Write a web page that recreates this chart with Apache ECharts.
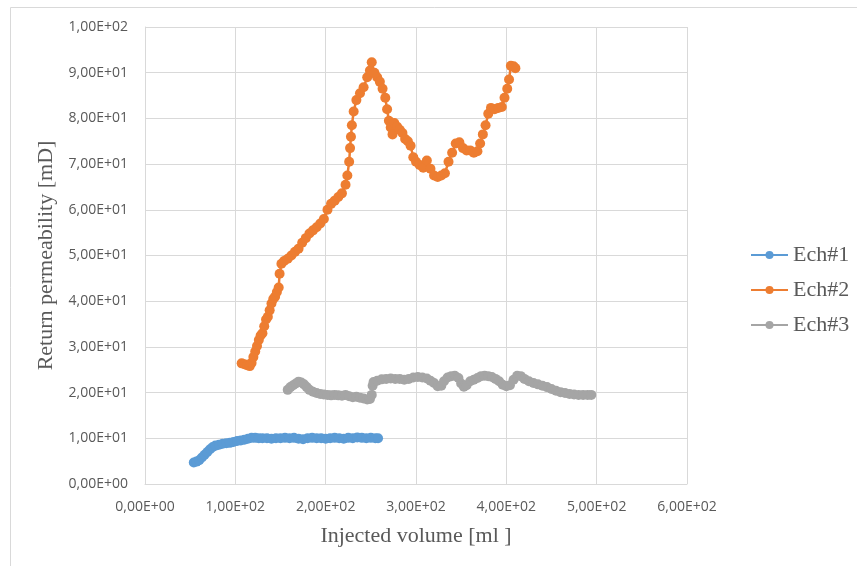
<!DOCTYPE html>
<html>
<head>
<meta charset="utf-8">
<script src="https://cdn.jsdelivr.net/npm/echarts@6/dist/echarts.min.js"></script>
<style>
  html, body { margin: 0; padding: 0; background: #fff; }
  #chart { width: 857px; height: 566px; }
</style>
</head>
<body>
<div id="chart"></div>
<script>
  // series names
  var seriesNames = ['Ech#1', 'Ech#2', 'Ech#3']

  // Ech#1 : injected volume [ml] / permeability [mD]
  var ech1X = [54, 57, 60, 63, 66, 69, 72, 75, 78, 82, 86, 90, 94, 98, 102, 106, 110, 114, 118, 122,
    126, 130, 135, 140, 145, 150, 155, 160, 165, 170, 175, 180, 185, 190, 195, 200, 205, 210, 215, 220,
    225, 230, 235, 240, 245, 250, 255, 258]
  var ech1Y = [4.7, 4.9, 5.2, 5.8, 6.4, 7.0, 7.6, 8.1, 8.4, 8.6, 8.8, 8.9, 9.0, 9.2, 9.4, 9.5, 9.7, 9.9, 10.1, 10.1,
    10.0, 10.0, 10.0, 9.9, 10.0, 10.0, 10.1, 10.0, 10.1, 9.9, 9.8, 10.0, 10.1, 10.0, 10.0, 9.9, 10.0, 10.1, 10.0, 9.9,
    10.1, 10.0, 10.2, 10.1, 10.0, 10.1, 10.0, 10.0]

  // Ech#2
  var ech2X = [107, 110, 113, 116, 118, 120, 122, 124, 126, 128, 130, 132, 134, 136, 138, 140, 142, 144, 146, 148,
    149, 151, 154, 158, 162, 166, 170, 174, 178, 182, 186, 190, 194, 198, 202, 206, 210, 214, 218, 222,
    224, 226, 227, 228, 229, 231, 234, 238, 242, 246, 249, 251, 254, 257, 260, 263, 266, 268, 270, 272,
    274, 276, 279, 282, 285, 288, 291, 294, 297, 300, 304, 308, 312, 316, 320, 324, 328, 332, 336, 340,
    344, 348, 352, 356, 360, 364, 368, 371, 374, 377, 380, 383, 387, 391, 395, 398, 401, 403, 405, 408, 410]
  var ech2Y = [26.4, 26.2, 26.0, 25.8, 26.5, 27.8, 29.0, 30.2, 31.5, 32.5, 33.0, 34.5, 36.0, 36.6, 38.0, 39.5, 40.5, 41.0, 42.0, 43.0,
    46.0, 48.2, 48.8, 49.3, 50.0, 50.8, 51.5, 52.8, 53.8, 54.8, 55.5, 56.2, 57.0, 58.0, 60.0, 61.3, 62.0, 62.8, 63.6, 65.5,
    67.5, 70.5, 73.5, 76.0, 78.5, 81.5, 84.0, 85.5, 86.8, 89.0, 90.5, 92.3, 90.0, 89.0, 88.0, 86.5, 84.5, 82.0, 79.5, 78.0,
    76.5, 79.0, 78.2, 77.5, 76.8, 75.5, 75.0, 74.0, 71.5, 70.5, 69.8, 69.2, 70.8, 69.0, 67.5, 67.2, 67.5, 68.0, 70.5, 72.5,
    74.5, 74.8, 73.5, 73.0, 73.0, 72.5, 72.8, 74.5, 76.5, 78.5, 81.0, 82.3, 82.0, 82.3, 82.5, 84.5, 86.5, 88.5, 91.5, 91.4, 91.0]

  // Ech#3
  var ech3X = [158, 161, 164, 167, 170, 173, 176, 179, 182, 186, 190, 194, 198, 202, 206, 210, 214, 218, 222, 226,
    230, 234, 238, 242, 246, 249, 251, 252, 253, 257, 262, 267, 272, 277, 282, 287, 292, 297, 302, 307,
    312, 316, 320, 324, 328, 331, 335, 339, 343, 347, 350, 353, 356, 360, 364, 368, 372, 376, 380, 384,
    388, 392, 396, 400, 404, 408, 412, 416, 420, 425, 430, 435, 440, 445, 450, 455, 460, 465, 470, 475,
    480, 485, 490, 494]
  var ech3Y = [20.6, 21.2, 21.6, 22.0, 22.4, 22.2, 21.8, 21.2, 20.6, 20.2, 19.9, 19.7, 19.6, 19.5, 19.4, 19.5, 19.4, 19.3, 19.5, 19.2,
    19.0, 19.1, 18.9, 18.7, 18.5, 18.6, 19.5, 21.5, 22.3, 22.6, 22.9, 23.0, 23.1, 23.0, 23.0, 22.8, 23.0, 23.3, 23.4, 23.3,
    23.1, 22.6, 22.1, 21.4, 21.5, 22.5, 23.3, 23.6, 23.7, 23.2, 22.0, 21.3, 21.6, 22.5, 22.8, 23.2, 23.6, 23.7, 23.6, 23.4,
    23.0, 22.5, 21.7, 21.4, 21.6, 22.8, 23.7, 23.6, 23.0, 22.5, 22.1, 21.8, 21.5, 21.2, 20.8, 20.4, 20.1, 19.9, 19.7, 19.6,
    19.5, 19.5, 19.5, 19.5]

  // tick labels
  var xTickLabels = ['0,00E+00', '1,00E+02', '2,00E+02', '3,00E+02', '4,00E+02', '5,00E+02', '6,00E+02']
  var yTickLabels = ['0,00E+00', '1,00E+01', '2,00E+01', '3,00E+01', '4,00E+01', '5,00E+01',
    '6,00E+01', '7,00E+01', '8,00E+01', '9,00E+01', '1,00E+02']

  var colors = ['#5B9BD5', '#ED7D31', '#A5A5A5']

  function pairs (xs, ys) {
    var out = []
    for (var i = 0; i < xs.length; i++) out.push([xs[i], ys[i]])
    return out
  }

  var allX = [ech1X, ech2X, ech3X]
  var allY = [ech1Y, ech2Y, ech3Y]
  var series = []
  seriesNames.map(function (name, i) {
    series.push({
      name: name,
      type: 'line',
      data: pairs(allX[i], allY[i]),
      symbol: 'circle',
      symbolSize: 10,
      showSymbol: true,
      lineStyle: { width: 2.5, color: colors[i] },
      itemStyle: { color: colors[i] }
    })
  })

  var chart = echarts.init(document.getElementById('chart'))
  chart.setOption({
    animation: false,
    color: colors,
    graphic: [{
      type: 'rect',
      shape: { x: 10.5, y: 7.5, width: 900, height: 600 },
      style: { fill: 'none', stroke: '#d9d9d9', lineWidth: 1 },
      silent: true
    }],
    grid: { left: 145, right: 170, top: 27, bottom: 82 },
    legend: {
      orient: 'vertical',
      left: 745,
      top: 239,
      itemWidth: 37,
      itemHeight: 10,
      itemGap: 13,
      data: seriesNames,
      textStyle: { fontFamily: 'Liberation Serif', fontSize: 22, color: '#595959' }
    },
    xAxis: {
      type: 'value',
      min: 0,
      max: 600,
      interval: 100,
      name: 'Injected volume [ml ]',
      nameLocation: 'middle',
      nameGap: 41,
      nameTextStyle: { fontFamily: 'Liberation Serif', fontSize: 22, color: '#595959' },
      axisLine: { show: true, lineStyle: { color: '#d9d9d9' } },
      axisTick: { show: false },
      axisLabel: {
        margin: 16,
        fontFamily: 'Open Sans',
        fontSize: 14,
        color: '#595959',
        formatter: function (v) { return xTickLabels[Math.round(v / 100)] }
      },
      splitLine: { show: true, lineStyle: { color: '#d9d9d9' } }
    },
    yAxis: {
      type: 'value',
      min: 0,
      max: 100,
      interval: 10,
      name: 'Return permeability [mD]',
      nameLocation: 'middle',
      nameGap: 86,
      nameTextStyle: { fontFamily: 'Liberation Serif', fontSize: 22, color: '#595959' },
      axisLine: { show: true, lineStyle: { color: '#d9d9d9' } },
      axisTick: { show: false },
      axisLabel: {
        margin: 17,
        fontFamily: 'Open Sans',
        fontSize: 14,
        color: '#595959',
        formatter: function (v) { return yTickLabels[Math.round(v / 10)] }
      },
      splitLine: { show: true, lineStyle: { color: '#d9d9d9' } }
    },
    series: series
  })
</script>
</body>
</html>
